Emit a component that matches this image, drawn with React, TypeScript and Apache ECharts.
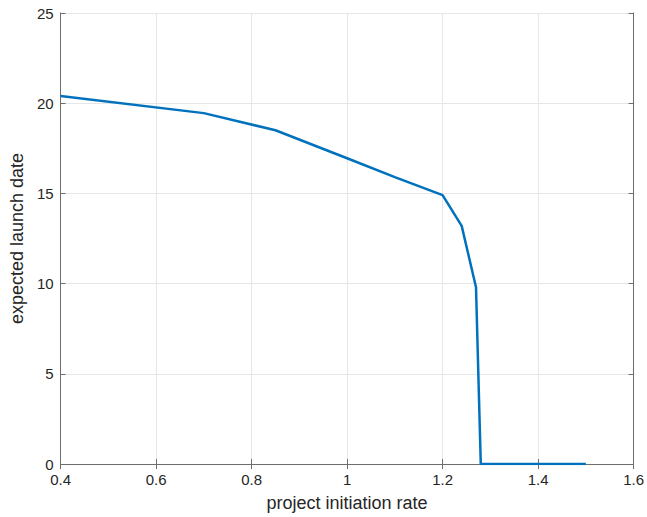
import React, { useEffect, useRef } from "react";
import * as echarts from "echarts";

const xValues = [0.4, 0.7, 0.85, 1.0, 1.1, 1.2, 1.24, 1.27, 1.28, 1.5];
const yValues = [20.4, 19.45, 18.5, 16.95, 15.9, 14.9, 13.2, 9.8, 0, 0];
const xTitle = "project initiation rate";
const yTitle = "expected launch date";

const fmt = (v: number) => String(Math.round(v * 10) / 10);

export default function App() {
  const ref = useRef<HTMLDivElement>(null);
  useEffect(() => {
    document.body.style.margin = "0";
    const chart = echarts.init(ref.current!, null, { renderer: "svg" });
    const font = "'Liberation Sans', Arial, Helvetica, sans-serif";
    const axisLine = { show: true, lineStyle: { color: "#6e6e6e", width: 1 } };
    const tick = { show: true, inside: true, length: 5, lineStyle: { color: "#6e6e6e" } };
    chart.setOption({
      animation: false,
      grid: { left: 55, right: 13, top: 13, bottom: 47, containLabel: false },
      xAxis: [
        {
          type: "value",
          min: 0.4,
          max: 1.6,
          interval: 0.2,
          axisLine,
          axisTick: tick,
          axisLabel: { color: "#262626", fontSize: 15, fontFamily: font, margin: 8, formatter: fmt },
          splitLine: { show: true, lineStyle: { color: "#e6e6e6" } },
          name: xTitle,
          nameLocation: "middle",
          nameGap: 30,
          nameTextStyle: { color: "#262626", fontSize: 18, fontFamily: font },
        },
        {
          type: "value",
          position: "top",
          min: 0.4,
          max: 1.6,
          interval: 0.2,
          axisLine,
          axisTick: tick,
          axisLabel: { show: false },
          splitLine: { show: false },
        },
      ],
      yAxis: [
        {
          type: "value",
          min: 0,
          max: 25,
          interval: 5,
          axisLine,
          axisTick: tick,
          axisLabel: { color: "#262626", fontSize: 15, fontFamily: font, margin: 7 },
          splitLine: { show: true, lineStyle: { color: "#e6e6e6" } },
          name: yTitle,
          nameLocation: "middle",
          nameGap: 29,
          nameTextStyle: { color: "#262626", fontSize: 18, fontFamily: font },
        },
        {
          type: "value",
          position: "right",
          min: 0,
          max: 25,
          interval: 5,
          axisLine,
          axisTick: tick,
          axisLabel: { show: false },
          splitLine: { show: false },
        },
      ],
      series: [
        {
          type: "line",
          data: xValues.map((x, i) => [x, yValues[i]]),
          showSymbol: false,
          lineStyle: { color: "#0072BD", width: 2.5 },
          itemStyle: { color: "#0072BD" },
        },
      ],
    });
    return () => chart.dispose();
  }, []);
  return <div ref={ref} style={{ width: 647, height: 517 }} />;
}
